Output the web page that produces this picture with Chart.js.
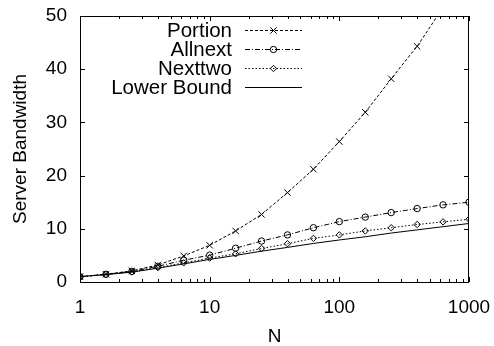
<!DOCTYPE html>
<html>
<head>
<meta charset="utf-8">
<script src="https://cdn.jsdelivr.net/npm/chart.js@4/dist/chart.umd.min.js"></script>
<style>
  html, body { margin: 0; padding: 0; background: #fff; }
  #wrap { width: 494px; height: 346px; }
</style>
</head>
<body>
<div id="wrap"><canvas id="c" width="494" height="346"></canvas></div>
<script>
// ---- data ----
const nValues = [1, 1.585, 2.512, 3.981, 6.31, 10, 15.85, 25.12, 39.81, 63.1, 100, 158.5, 251.2, 398.1, 631, 1000];
const portion    = [1, 1.45, 2.1, 3.2, 4.9, 6.9, 9.6, 12.7, 16.8, 21.2, 26.4, 31.9, 38.2, 44.3, 51.6, 59.2];
const allnext    = [1, 1.45, 2.0, 2.95, 4.1, 5.05, 6.35, 7.7, 8.85, 10.2, 11.35, 12.2, 13.05, 13.8, 14.5, 15.0];
const nexttwo    = [1, 1.4, 1.9, 2.7, 3.6, 4.5, 5.3, 6.3, 7.2, 8.2, 8.85, 9.6, 10.2, 10.8, 11.3, 11.8];
const lowerBound = [1, 1.4, 1.85, 2.6, 3.4, 4.25, 5.0, 5.8, 6.5, 7.25, 7.9, 8.5, 9.2, 9.8, 10.4, 11.0];
const seriesLabels = ['Portion', 'Allnext', 'Nexttwo', 'Lower Bound'];
const xTickLabels = [1, 10, 100, 1000];
const yTicks = [0, 10, 20, 30, 40, 50];
const xMinorTicks = [2,3,4,5,6,7,8,9,20,30,40,50,60,70,80,90,200,300,400,500,600,700,800,900];

const FONT = '"Liberation Sans", Arial, sans-serif';
const pts = arr => nValues.map((n, i) => ({x: n, y: arr[i]}));

const styles = [
  {dash: [3, 2],       pointStyle: 'crossRot', radius: 4.5},
  {dash: [5, 2, 1, 2], pointStyle: 'circle',   radius: 3.2},
  {dash: [1.5, 2],     pointStyle: 'rectRot',  radius: 3.2},
  {dash: [],           pointStyle: false,      radius: 0}
];
const seriesData = [portion, allnext, nexttwo, lowerBound];

const datasets = seriesData.map((arr, i) => ({
  label: seriesLabels[i],
  data: pts(arr),
  borderColor: '#000',
  backgroundColor: 'rgba(0,0,0,0)',
  borderWidth: 1,
  borderDash: styles[i].dash,
  pointStyle: styles[i].pointStyle || 'circle',
  pointRadius: styles[i].radius,
  pointBorderWidth: 1,
  pointBorderColor: '#000',
  pointBackgroundColor: 'rgba(0,0,0,0)',
  tension: 0
}));

// frame, inward ticks, custom legend (gnuplot style)
const decorPlugin = {
  id: 'decor',
  afterDraw(chart) {
    const ctx = chart.ctx;
    const a = chart.chartArea;
    const xs = chart.scales.x, ys = chart.scales.y;
    ctx.save();
    ctx.strokeStyle = '#000';
    ctx.lineWidth = 1;
    ctx.setLineDash([]);
    // frame
    ctx.strokeRect(Math.round(a.left) + 0.5, Math.round(a.top) + 0.5,
                   Math.round(a.right - a.left) - 1, Math.round(a.bottom - a.top));
    ctx.beginPath();
    // x ticks (bottom and top, inward)
    const xt = (v, len) => {
      const px = Math.round(xs.getPixelForValue(v)) + 0.5;
      ctx.moveTo(px, a.bottom); ctx.lineTo(px, a.bottom - len);
      ctx.moveTo(px, a.top); ctx.lineTo(px, a.top + len);
    };
    xTickLabels.forEach(v => xt(v, 5));
    xMinorTicks.forEach(v => xt(v, 3));
    // y ticks (left and right, inward)
    yTicks.forEach(v => {
      const py = Math.round(ys.getPixelForValue(v)) + 0.5;
      ctx.moveTo(a.left, py); ctx.lineTo(a.left + 5, py);
      ctx.moveTo(a.right, py); ctx.lineTo(a.right - 5, py);
    });
    ctx.stroke();

    // legend
    const textRight = 232, lineX0 = 245, lineX1 = 302, rowY0 = 30, rowStep = 19;
    ctx.font = '20.5px ' + FONT;
    ctx.textAlign = 'right';
    ctx.textBaseline = 'alphabetic';
    chart.data.datasets.forEach((ds, i) => {
      const y = rowY0 + i * rowStep;
      ctx.fillStyle = '#000';
      ctx.fillText(ds.label, textRight, y + 7.3);
      ctx.beginPath();
      ctx.setLineDash(ds.borderDash || []);
      ctx.moveTo(lineX0, y + 0.5); ctx.lineTo(lineX1, y + 0.5);
      ctx.stroke();
      ctx.setLineDash([]);
      if (ds.pointRadius > 0 && Chart.helpers && Chart.helpers.drawPoint) {
        ctx.fillStyle = 'rgba(0,0,0,0)';
        Chart.helpers.drawPoint(ctx, {pointStyle: ds.pointStyle, radius: ds.pointRadius, rotation: 0, borderWidth: 1},
          (lineX0 + lineX1) / 2, y + 0.5);
      }
    });
    ctx.restore();
  }
};

new Chart(document.getElementById('c'), {
  type: 'line',
  data: { datasets },
  options: {
    responsive: false,
    animation: false,
    devicePixelRatio: 1,
    layout: { autoPadding: false, padding: { top: 16, right: 25, left: 0, bottom: 0 } },
    plugins: { legend: { display: false }, tooltip: { enabled: false } },
    scales: {
      x: {
        type: 'logarithmic',
        min: 1, max: 1000,
        grid: { display: false, drawTicks: false },
        border: { display: false },
        ticks: {
          autoSkip: false, maxRotation: 0, minRotation: 0,
          color: '#000', font: { family: FONT, size: 19 }, padding: 14,
          callback: v => xTickLabels.includes(v) ? String(v) : ''
        },
        title: { display: true, text: 'N', color: '#000', font: { family: FONT, size: 19, lineHeight: 1 }, padding: { top: 0, bottom: 0 } },
        afterFit: s => { s.height = 64; s.paddingLeft = 0; s.paddingRight = 0; }
      },
      y: {
        type: 'linear',
        min: 0, max: 50,
        grid: { display: false, drawTicks: false },
        border: { display: false },
        ticks: {
          stepSize: 10, color: '#000', font: { family: FONT, size: 19 }, padding: 13
        },
        title: { display: true, text: 'Server Bandwidth', color: '#000', font: { family: FONT, size: 19 }, padding: { top: 9, bottom: 0 } },
        afterFit: s => { s.width = 80; s.paddingTop = 0; s.paddingBottom = 0; }
      }
    }
  },
  plugins: [decorPlugin]
});
</script>
</body>
</html>
